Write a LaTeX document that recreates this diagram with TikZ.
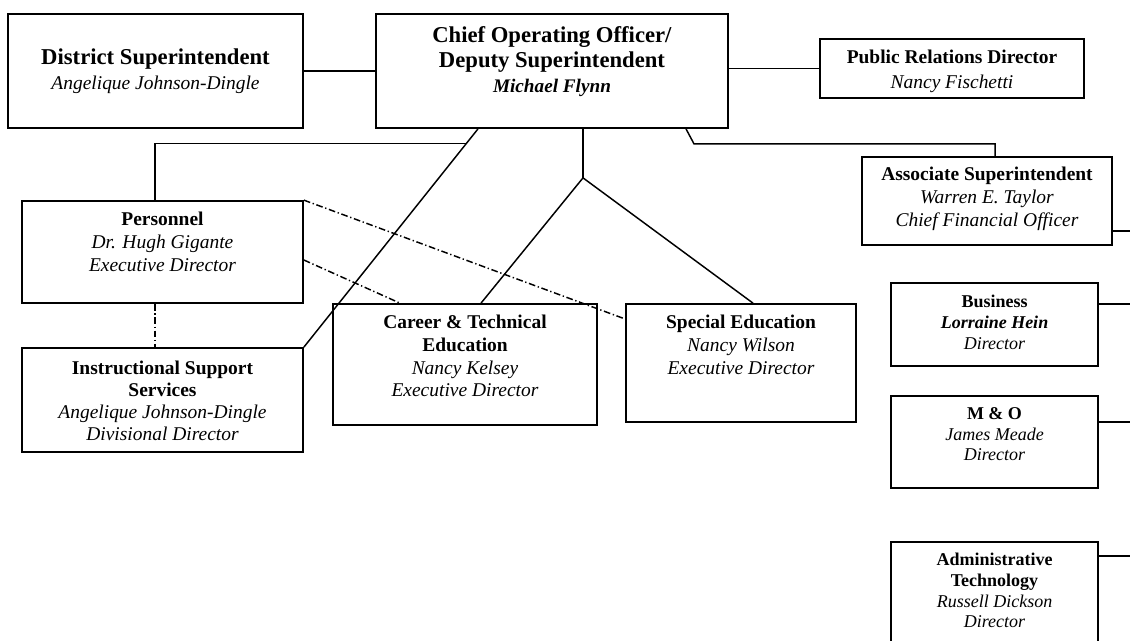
\documentclass[tikz,border=0pt]{standalone}
\usepackage{fontspec}
\setmainfont{Liberation Serif}
\usetikzlibrary{calc,positioning}

\tikzset{
  box/.style 2 args={draw, line width=1.3pt, inner sep=0pt, minimum width=#1*0.75pt, minimum height=#2*0.75pt},
  bigtxt/.style={anchor=north, inner sep=0pt, align=center, font=\fontsize{17}{18.75}\selectfont},
  midtxt/.style={anchor=north, inner sep=0pt, align=center, font=\fontsize{14.6}{17.25}\selectfont},
  smltxt/.style={anchor=north, inner sep=0pt, align=center, font=\fontsize{13.5}{15.5}\selectfont},
  conn/.style={line width=1.1pt},
  dotconn/.style={line width=1.1pt, dash pattern=on 5pt off 2pt on 1pt off 2pt},
}

\begin{document}
\begin{tikzpicture}[x=0.75pt,y=0.75pt,yscale=-1,xscale=1]
        \useasboundingbox (0,0) rectangle (1130,640);
        \clip (0,0) rectangle (1130,640);

        % Boxes
        \node[box={295}{114}] (dist) at (155.5,71) {};
        \node[box={352}{114}] (coo) at (552,71) {};
        \node[box={264}{59}] (pr) at (952,68.5) {};
        \node[box={250}{88}] (assoc) at (987,201) {};
        \node[box={281}{102}] (pers) at (162.5,252) {};
        \node[box={281}{104}] (iss) at (162.5,400) {};
        \node[box={264}{121}] (career) at (465,364.5) {};
        \node[box={230}{118}] (sped) at (741,363) {};
        \node[box={207}{83}] (bus) at (994.5,324.5) {};
        \node[box={207}{92}] (mo) at (994.5,442) {};
        \node[box={207}{112}] (admin) at (994.5,598) {};

        % Text Node
        \node[bigtxt] (dist-t) at ($(dist.north)+(0,35.5)$) {\textbf{District Superintendent}\\\fontsize{14.6}{18.75}\selectfont\textit{Angelique Johnson-Dingle}};
        % Text Node
        \node[bigtxt] (coo-t) at ($(coo.north)+(0,13.5)$) {\textbf{Chief Operating Officer/}\\\textbf{Deputy Superintendent}\\\fontsize{14.4}{18.75}\selectfont\textbf{\textit{Michael Flynn}}};
        % Text Node
        \node[midtxt,font=\fontsize{14.6}{18.75}\selectfont] (pr-t) at ($(pr.north)+(0,12)$) {\textbf{Public Relations Director}\\\textit{Nancy Fischetti}};
        % Text Node
        \node[midtxt] (assoc-t) at ($(assoc.north)+(0,11)$) {\textbf{Associate Superintendent}\\\textit{Warren E. Taylor}\\\textit{Chief Financial Officer}};
        % Text Node
        \node[midtxt] (pers-t) at ($(pers.north)+(0,12)$) {\textbf{Personnel}\\\textit{Dr. Hugh Gigante}\\\textit{Executive Director}};
        % Text Node
        \node[midtxt,font=\fontsize{14.6}{16.5}\selectfont] (iss-t) at ($(iss.north)+(0,14)$) {\textbf{Instructional Support}\\\textbf{Services}\\\textit{Angelique Johnson-Dingle}\\\textit{Divisional Director}};
        % Text Node
        \node[midtxt,font=\fontsize{14.6}{17}\selectfont] (career-t) at ($(career.north)+(0,12)$) {\textbf{Career \& Technical}\\\textbf{Education}\\\textit{Nancy Kelsey}\\\textit{Executive Director}};
        % Text Node
        \node[midtxt] (sped-t) at ($(sped.north)+(0,12)$) {\textbf{Special Education}\\\textit{Nancy Wilson}\\\textit{Executive Director}};
        % Text Node
        \node[smltxt] (bus-t) at ($(bus.north)+(0,13)$) {\textbf{Business}\\\textbf{\textit{Lorraine Hein}}\\\textit{Director}};
        % Text Node
        \node[smltxt] (mo-t) at ($(mo.north)+(0,12)$) {\textbf{M \& O}\\\textit{James Meade}\\\textit{Director}};
        % Text Node
        \node[smltxt] (admin-t) at ($(admin.north)+(0,12)$) {\textbf{Administrative}\\\textbf{Technology}\\\textit{Russell Dickson}\\\textit{Director}};

        %Straight Lines
        \draw[conn] (dist.east) -- (coo.west);
        \draw[conn] (pr.west -| coo.east) -- (pr.west);
        \draw[conn] ($(coo.south)+(134,0)$) -- ++(8,15) -| ($(assoc.north)+(8,0)$);

        % left branch
        \coordinate (cl) at ($(coo.south)+(-74,0)$);
        \draw[conn] (cl) -- coordinate[pos=0.068] (jl) (iss.north east);
        \draw[conn] (jl) -| ($(pers.north)+(-7.5,0)$);
        \draw[dotconn] ($(pers.south)+(-7.5,0)$) -- ($(iss.north)+(-7.5,0)$);

        % middle fork
        \coordinate (fork) at ($(coo.south)+(31,49)$);
        \draw[conn] ($(coo.south)+(31,0)$) -- (fork);
        \draw[conn] (fork) -- ($(career.north)+(16,0)$);
        \draw[conn] (fork) -- ($(sped.north)+(12,0)$);

        % dash dot links
        \draw[dotconn] (pers.north east) -- ($(sped.west)+(0,-44)$);
        \draw[dotconn] ($(pers.east)+(0,8)$) -- ($(career.north)+(-65,0)$);

        % right edge
        \draw[conn] ($(assoc.east)+(0,30)$) -- ++(30,0);
        \draw[conn] ($(bus.east)+(0,-20.5)$) -- ++(40,0);
        \draw[conn] ($(mo.east)+(0,-20)$) -- ++(40,0);
        \draw[conn] ($(admin.north east)+(0,15)$) -- ++(40,0);

\end{tikzpicture}
\end{document}
